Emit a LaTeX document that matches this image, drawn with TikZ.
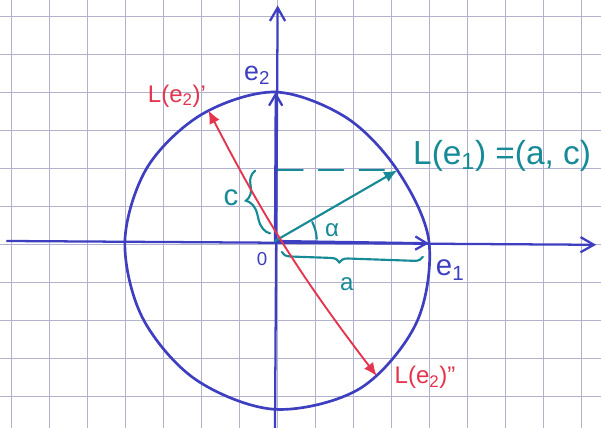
\documentclass[tikz,border=0pt]{standalone}
\usepackage{fontspec}
\setmainfont{Liberation Sans}
\usepackage{xcolor}
\usetikzlibrary{arrows.meta, decorations.pathreplacing}

\definecolor{inkblue}{RGB}{62,62,192}
\definecolor{inkred}{RGB}{228,52,78}
\definecolor{inkteal}{RGB}{22,138,150}
\definecolor{gridgray}{RGB}{178,178,206}

\begin{document}
\begin{tikzpicture}[
    gridline/.style={draw=gridgray, line width=0.55pt},
    pen/.style={draw=inkblue, line width=2pt, line cap=round, line join=round},
    axis/.style={pen, line width=1.7pt, -{Straight Barb[length=3.5mm, width=4mm]}},
    basis/.style={pen, line width=1.7pt, -{Straight Barb[length=3mm, width=3.5mm]}},
    tealline/.style={draw=inkteal, line width=1.6pt, line cap=round},
    tealvec/.style={tealline, -{Latex[length=3.5mm, width=3mm]}},
    redvec/.style={draw=inkred, line width=1.4pt, {Latex[length=3.5mm, width=3mm]}-{Latex[length=3.5mm, width=3mm]}},
    curly/.style={tealline, decorate},
    lab/.style={inner sep=0pt}
]
\useasboundingbox[fill=white] (-7.237,-4.921) rectangle (8.579,6.342);

% squared paper
\begin{scope}
    \clip (-7.237,-4.921) rectangle (8.579,6.342);
    \foreach \gx in {-7,...,8}
        \draw[gridline] (\gx+0.05,-5) -- (\gx+0.05,6.4);
    \foreach \gy in {-4,...,6}
        \draw[gridline] (-7.3,\gy-0.08) -- (8.6,\gy-0.08);
\end{scope}

\coordinate (O)    at (0,0);
\coordinate (Xl)   at (-7.05,0);
\coordinate (Xr)   at (8.45,-0.1);
\coordinate (Yb)   at (0,-4.92);
\coordinate (Yt)   at (0.07,6.2);
\coordinate (E1)   at (4.05,-0.06);
\coordinate (E2)   at (0.02,3.92);
\coordinate (Le1)  at (30:3.72);
\coordinate (Dc)   at (0.08,1.86);
\coordinate (Le2a) at (117:3.86);
\coordinate (Le2b) at (307:4.45);

% hand drawn circle
\draw[pen] plot[smooth cycle, tension=0.55] coordinates {
    (0:4.05) (30:3.72) (60:3.75) (90:3.92) (120:3.85) (150:3.88)
    (180:3.95) (210:4.03) (240:4.2) (270:4.43) (300:4.48) (330:4.3)};

\draw[axis] (Xl) -- (Xr);
\draw[axis] (Yb) -- (Yt);
\draw[basis] (O) -- (E1);
\draw[basis] (O) -- (E2);

\draw[tealline, dash pattern=on 0.65cm off 0.42cm] (Dc) -- (Le1);
\draw[tealvec] (O) -- (Le1);
\draw[tealline] (O) ++(3:1.1) arc[start angle=3, end angle=27, radius=1.1];
\draw[curly, decoration={brace, amplitude=0.42cm, aspect=0.58}] (-0.13,0.2) -- (-0.52,1.85);
\draw[curly, decoration={brace, amplitude=0.22cm, aspect=0.59}] (3.89,-0.42) -- (0.18,-0.29);

\draw[redvec, bend right=5] (Le2a) to (Le2b);

\node[lab, text=inkblue, font=\fontsize{20}{22}\selectfont] (e2) at (-0.47,4.37) {e\textsubscript{2}};
\node[lab, text=inkblue, font=\fontsize{22}{24}\selectfont] (e1) at (4.61,-0.76) {e\textsubscript{1}};
\node[lab, text=inkblue, font=\fontsize{14}{16}\selectfont] (zero) at (-0.34,-0.47) {0};
\node[lab, text=inkred, font=\fontsize{18}{20}\selectfont] (lea) at (-2.58,3.82) {L(e\textsubscript{2})'};
\node[lab, text=inkred, font=\fontsize{18}{20}\selectfont] (leb) at (3.95,-3.58) {L(e\textsubscript{2})''};
\node[lab, text=inkteal, font=\fontsize{25}{28}\selectfont, anchor=west] (le1) at (3.63,2.24) {L(e\textsubscript{1}) =(a, c)};
\node[lab, text=inkteal, font=\fontsize{22}{24}\selectfont] (c) at (-1.16,1.13) {c};
\node[lab, text=inkteal, font=\fontsize{18}{20}\selectfont] (a) at (1.89,-1.13) {a};
\node[lab, text=inkteal, font=\fontsize{18}{20}\selectfont] (alpha) at (1.5,0.29) {α};
\end{tikzpicture}
\end{document}
